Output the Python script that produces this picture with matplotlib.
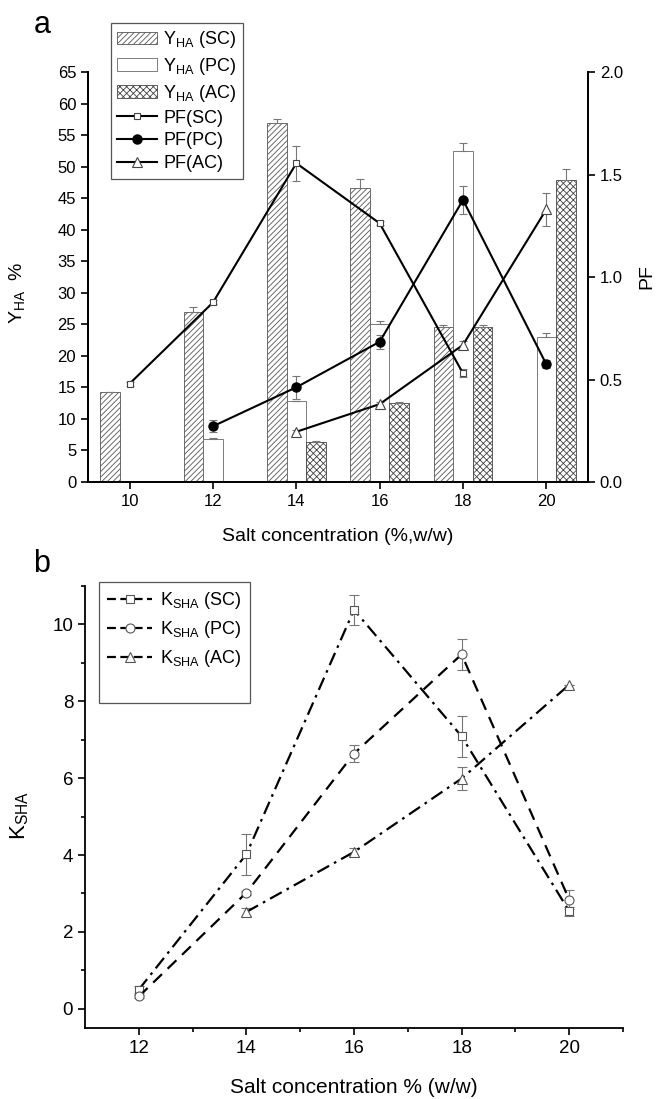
import numpy as np
import matplotlib
matplotlib.use('Agg')
import matplotlib.pyplot as plt
from matplotlib.lines import Line2D
from matplotlib.patches import Patch

plt.rcParams['font.family'] = ['Liberation Sans', 'DejaVu Sans']
plt.rcParams['mathtext.fontset'] = 'custom'
plt.rcParams['mathtext.rm'] = 'Liberation Sans'
plt.rcParams['hatch.linewidth'] = 0.6

# ---- panel a data ----
conc = [10, 12, 14, 16, 18, 20]

# Y_HA bars (nan = no bar)
yha_sc = [14.2, 26.9, 56.9, 46.6, 24.5, np.nan]
yha_sc_err = [0.1, 0.8, 0.6, 1.4, 0.4, 0.0]
yha_pc = [np.nan, 6.8, 12.8, 25.0, 52.5, 23.0]
yha_pc_err = [0.0, 0.1, 0.1, 0.6, 1.2, 0.7]
yha_ac = [np.nan, np.nan, 6.4, 12.6, 24.5, 47.9]
yha_ac_err = [0.0, 0.0, 0.05, 0.1, 0.4, 1.8]

# PF lines
pf_sc_x = [10, 12, 14, 16, 18]
pf_sc = [0.48, 0.876, 1.555, 1.262, 0.53]
pf_sc_err = [0.01, 0.01, 0.085, 0.01, 0.02]
pf_pc_x = [12, 14, 16, 18, 20]
pf_pc = [0.272, 0.462, 0.684, 1.376, 0.574]
pf_pc_err = [0.03, 0.055, 0.035, 0.07, 0.02]
pf_ac_x = [14, 16, 18, 20]
pf_ac = [0.245, 0.38, 0.669, 1.33]
pf_ac_err = [0.01, 0.01, 0.02, 0.08]

# ---- panel b data ----
k_x = [12, 14, 16, 18, 20]
k_sc = [0.50, 4.02, 10.38, 7.09, 2.54]
k_sc_err = [0.08, 0.53, 0.39, 0.53, 0.12]
k_pc = [0.32, 3.02, 6.64, 9.22, 2.84]
k_pc_err = [0.05, 0.05, 0.22, 0.40, 0.25]
k_ac_x = [14, 16, 18, 20]
k_ac = [2.52, 4.08, 5.99, 8.43]
k_ac_err = [0.1, 0.1, 0.3, 0.0]

W, H = 659, 1099
fig = plt.figure(figsize=(W / 100, H / 100), dpi=100)

def frac(l, t, r, b):
    return [l / W, 1 - b / H, (r - l) / W, (b - t) / H]

ecol = '#777777'
bw = 0.47

# ================= panel a =================
ax1 = fig.add_axes(frac(88, 72, 588, 482))
axr = ax1.twinx()
x = np.array(conc, dtype=float)

b_sc = ax1.bar(x - bw, yha_sc, bw, color='white', edgecolor='#555555', hatch='//////', lw=0.6, zorder=2)
b_pc = ax1.bar(x, yha_pc, bw, color='white', edgecolor='#666666', lw=0.6, zorder=2)
b_ac = ax1.bar(x + bw, yha_ac, bw, color='white', edgecolor='#444444', hatch='xxxxx', lw=0.6, zorder=2)
for off, vals, err in [(-bw, yha_sc, yha_sc_err), (0, yha_pc, yha_pc_err), (bw, yha_ac, yha_ac_err)]:
    v = np.array(vals)
    m = ~np.isnan(v)
    ax1.errorbar(x[m] + off, v[m], yerr=[np.zeros(m.sum()), np.array(err)[m]], fmt='none',
                 ecolor=ecol, elinewidth=0.8, capsize=2.8, capthick=0.8, zorder=3)

ax1.set_xlim(9, 21)
ax1.set_ylim(0, 65)
ax1.set_xticks(conc)
ax1.set_yticks(np.arange(0, 66, 5))
ax1.spines['top'].set_visible(False)
ax1.set_xlabel('Salt concentration (%,w/w)', fontsize=14, labelpad=14)
ax1.set_ylabel(r'Y$_{\mathregular{HA}}$  %', fontsize=14)
ax1.yaxis.set_label_coords(-0.12, 0.46)

lk = dict(color='black', lw=1.5, ecolor=ecol, elinewidth=0.8, capsize=3, capthick=0.8)
l1 = axr.errorbar(pf_sc_x, pf_sc, yerr=pf_sc_err, marker='s', ms=5, mfc='white', mec='#444444', mew=0.8, **lk)
l2 = axr.errorbar(pf_pc_x, pf_pc, yerr=pf_pc_err, marker='o', ms=6.5, mfc='black', mec='black', **lk)
l3 = axr.errorbar(pf_ac_x, pf_ac, yerr=pf_ac_err, marker='^', ms=6.5, mfc='white', mec='#444444', mew=0.8, **lk)
axr.set_ylim(0, 2.0)
axr.set_yticks([0, 0.5, 1.0, 1.5, 2.0])
axr.set_yticklabels(['0.0', '0.5', '1.0', '1.5', '2.0'])
axr.spines['top'].set_visible(False)
axr.set_ylabel('PF', fontsize=14)
axr.yaxis.set_label_coords(1.1, 0.5)

for a in (ax1, axr):
    a.tick_params(direction='out', length=5, width=1.2, labelsize=12)
    for s in a.spines.values():
        s.set_linewidth(1.3)

hs = [Patch(facecolor='white', edgecolor='#555555', hatch='//////', lw=0.6),
      Patch(facecolor='white', edgecolor='#666666', lw=0.6),
      Patch(facecolor='white', edgecolor='#444444', hatch='xxxxx', lw=0.6),
      Line2D([], [], color='black', lw=1.5, marker='s', ms=5, mfc='white', mec='#444444', mew=0.8),
      Line2D([], [], color='black', lw=1.5, marker='o', ms=6.5, mfc='black'),
      Line2D([], [], color='black', lw=1.5, marker='^', ms=6.5, mfc='white', mec='#444444', mew=0.8)]
labs = [r'Y$_{\mathregular{HA}}$ (SC)', r'Y$_{\mathregular{HA}}$ (PC)', r'Y$_{\mathregular{HA}}$ (AC)',
        'PF(SC)', 'PF(PC)', 'PF(AC)']
lg = axr.legend(hs, labs, loc='upper left', bbox_to_anchor=(111 / W, 1 - 23 / H),
                bbox_transform=fig.transFigure, fontsize=13, frameon=True, fancybox=False,
                edgecolor='#555555', framealpha=1, handlelength=2.2, handletextpad=0.35,
                labelspacing=0.32, borderpad=0.35, borderaxespad=0)
lg.get_frame().set_linewidth(0.9)

fig.text(42 / W, 1 - 25 / H, 'a', fontsize=22, ha='center', va='center')

# ================= panel b =================
ax2 = fig.add_axes(frac(85, 586, 623, 1028))
bk = dict(color='black', lw=1.6, ecolor=ecol, elinewidth=0.8, capsize=3.4, capthick=0.8,
          mfc='white', mec='#555555', mew=0.8)
e1 = ax2.errorbar(k_x, k_sc, yerr=k_sc_err, marker='s', ms=6, **bk)
e1.lines[0].set_dashes([6, 2.5, 1.2, 2.5])
e2 = ax2.errorbar(k_x, k_pc, yerr=k_pc_err, marker='o', ms=6.5, **bk)
e2.lines[0].set_dashes([5.5, 3.5])
e3 = ax2.errorbar(k_ac_x, k_ac, yerr=k_ac_err, marker='^', ms=7.5, **bk)
e3.lines[0].set_dashes([6, 2.5, 1.2, 2.5])

ax2.set_xlim(11, 21)
ax2.set_ylim(-0.5, 11)
ax2.set_xticks([12, 14, 16, 18, 20])
ax2.set_xticks([13, 15, 17, 19, 21], minor=True)
ax2.set_yticks([0, 2, 4, 6, 8, 10])
ax2.set_yticks([1, 3, 5, 7, 9, 11], minor=True)
ax2.spines['top'].set_visible(False)
ax2.spines['right'].set_visible(False)
ax2.tick_params(which='major', direction='out', length=5, width=1.2, labelsize=13.5)
ax2.tick_params(which='minor', direction='out', length=3, width=1.2)
for s in ax2.spines.values():
    s.set_linewidth(1.3)
ax2.set_xlabel('Salt concentration % (w/w)', fontsize=15, labelpad=15)
ax2.set_ylabel(r'K$_{\mathregular{SHA}}$', fontsize=16)
ax2.yaxis.set_label_coords(-0.1, 0.48)

kh = [Line2D([], [], color='black', lw=1.6, dashes=[4, 2], marker='s', ms=6, mfc='white', mec='#555555', mew=0.8),
      Line2D([], [], color='black', lw=1.6, dashes=[4, 2], marker='o', ms=6.5, mfc='white', mec='#555555', mew=0.8),
      Line2D([], [], color='black', lw=1.6, dashes=[4, 2], marker='^', ms=7.5, mfc='white', mec='#555555', mew=0.8),
      Line2D([], [], color='none')]
kl = [r'K$_{\mathregular{SHA}}$ (SC)', r'K$_{\mathregular{SHA}}$ (PC)', r'K$_{\mathregular{SHA}}$ (AC)', ' ']
lg2 = ax2.legend(kh, kl, loc='upper left', bbox_to_anchor=(99 / W, 1 - 582 / H),
                 bbox_transform=fig.transFigure, fontsize=13, frameon=True, fancybox=False,
                 edgecolor='#555555', framealpha=1, handlelength=2.5, handletextpad=0.45,
                 labelspacing=0.45, borderpad=0.45, borderaxespad=0)
lg2.get_frame().set_linewidth(0.9)

fig.text(42 / W, 1 - 564 / H, 'b', fontsize=22, ha='center', va='center')

fig.savefig('out.png', dpi=100)
